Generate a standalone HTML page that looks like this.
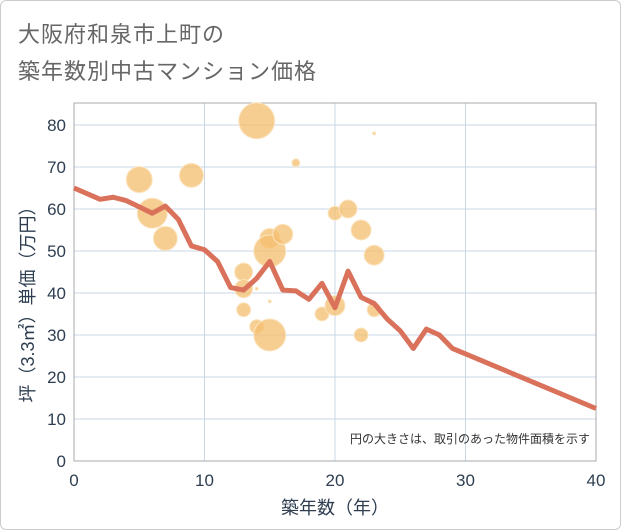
<!DOCTYPE html>
<html><head><meta charset="utf-8"><style>
body{margin:0;background:#fff;}
#wrap{position:relative;width:619px;height:528px;border:1px solid #ccc;border-radius:6px;background:#fff;overflow:hidden;font-family:"Liberation Sans","Noto Sans CJK JP",sans-serif;}
.title{position:absolute;left:17px;font-size:22px;color:#666;letter-spacing:1px;}
</style></head><body>
<div id="wrap">
<div class="title" style="top:16px">大阪府和泉市上町の</div>
<div class="title" style="top:53px">築年数別中古マンション価格</div>
<svg id="chart" width="621" height="530" style="position:absolute;left:-1px;top:-1px"></svg>
</div>
<script>
const xTicks=[0,10,20,30,40];
const yTicks=[0,10,20,30,40,50,60,70,80];
const lineX=[0,2,3,4,5,6,7,8,9,10,11,12,13,14,15,16,17,18,19,20,21,22,23,24,25,26,27,28,29,40];
const lineY=[65,62.3,62.8,62,60.5,59,60.7,57.5,51.2,50.3,47.5,41.3,40.7,43.5,47.5,40.7,40.5,38.5,42.3,36.5,45.2,39,37.5,33.8,31,26.8,31.4,30,26.8,12.5];
const bubX=[5,6,7,9,14,17,23,13,13,13,14,14,15,15,15,16,15,20,21,22,23,19,20,22,23];
const bubY=[67,59,53,68,81,71,78,45,41,36,32,41,38,53,50,54,30,59,60,55,49,35,37,30,36];
const bubR=[13,15,12,12,18,4,1.5,9,9,7,7,1.5,1.5,10,16,10,16,7,9,10,10,7,10,7,7];
const L=74,R=596,T=103,B=461;
const sx=v=>L+v/40*(R-L);
const syv=v=>B-v*4.2;
const svg=document.getElementById('chart'),NS='http://www.w3.org/2000/svg';
function mk(t,a){const e=document.createElementNS(NS,t);for(const k in a)e.setAttribute(k,a[k]);svg.appendChild(e);return e;}
xTicks.forEach(v=>{const g=mk('line',{x1:sx(v),x2:sx(v),y1:T,y2:B,stroke:'#c9d7e6','stroke-width':1});

const t=mk('text',{x:sx(v),y:486,'text-anchor':'middle','font-size':17,fill:'#2e3e50'});t.textContent=v;
});
yTicks.forEach(v=>{const g=mk('line',{x1:L,x2:R,y1:syv(v),y2:syv(v),stroke:'#c9d7e6','stroke-width':1});

const t=mk('text',{x:66,y:syv(v)+6,'text-anchor':'end','font-size':17,fill:'#2e3e50'});t.textContent=v;
});
const fr=mk('rect',{x:L,y:T,width:R-L,height:B-T,fill:'none',stroke:'#aaa','stroke-width':1});

bubX.forEach((v,i)=>{const c=mk('circle',{cx:sx(v),cy:syv(bubY[i]),r:bubR[i],fill:'rgba(244,190,110,0.75)',stroke:'#fbe6c4','stroke-width':1});
});
const pl=mk('polyline',{points:lineX.map((v,i)=>sx(v)+','+syv(lineY[i])).join(' '),fill:'none',stroke:'#d9715b','stroke-width':5,'stroke-linejoin':'round'});

const n=mk('text',{x:590,y:443,'text-anchor':'end','font-size':12,fill:'#333'});n.textContent='円の大きさは、取引のあった物件面積を示す';

const xt=mk('text',{x:335,y:514,'text-anchor':'middle','font-size':18,fill:'#2e3e50'});xt.textContent='築年数（年）';

const yt=mk('text',{x:0,y:0,'text-anchor':'middle','font-size':18,fill:'#2e3e50',transform:'translate(34,300) rotate(-90)'});yt.textContent='坪（3.3㎡）単価（万円）';

</script>
</body></html>
